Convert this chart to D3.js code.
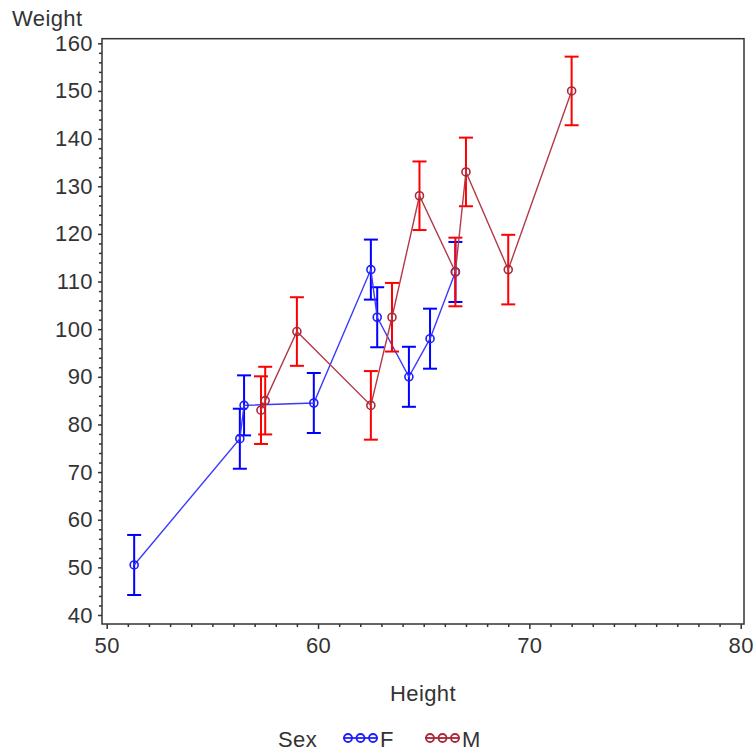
<!DOCTYPE html>
<html>
<head>
<meta charset="utf-8">
<script src="https://cdn.jsdelivr.net/npm/d3@7"></script>
<style>
  body { margin: 0; background: #fff; }
  text { font-family: "Liberation Sans", Arial, sans-serif; fill: #333; }
</style>
</head>
<body>
<svg id="svg" width="756" height="753"></svg>
<script>
// data (sashelp.class, sorted by height within sex)
const heightF = [51.3, 56.3, 56.5, 59.8, 62.5, 62.8, 64.3, 65.3, 66.5];
const weightF = [50.5, 77, 84, 84.5, 112.5, 102.5, 90, 98, 112];
const lowerF = [44.2, 70.7, 77.7, 78.2, 106.2, 96.2, 83.7, 91.7, 105.7];
const upperF = [56.8, 83.3, 90.3, 90.8, 118.8, 108.8, 96.3, 104.3, 118.3];

const heightM = [57.3, 57.5, 59, 62.5, 63.5, 64.8, 66.5, 67, 69, 72];
const weightM = [83, 85, 99.5, 84, 102.5, 128, 112, 133, 112.5, 150];
const lowerM = [75.9, 77.9, 92.3, 76.8, 95.3, 120.8, 104.8, 125.8, 105.2, 142.8];
const upperM = [90.1, 92.1, 106.7, 91.2, 109.7, 135.2, 119.2, 140.2, 119.8, 157.2];

const xTicks = [50, 60, 70, 80];
const yTicks = [40, 50, 60, 70, 80, 90, 100, 110, 120, 130, 140, 150, 160];

const groups = [
  {name: 'F', h: heightF, w: weightF, lo: lowerF, hi: upperF,
   line: '#3a3aff', mark: '#1c1cff', bar: '#0000ff'},
  {name: 'M', h: heightM, w: weightM, lo: lowerM, hi: upperM,
   line: '#b23a48', mark: '#a8283a', bar: '#ff0000'}
];

const svg = d3.select('#svg');
const frame = {left: 102, right: 744, top: 38.7, bottom: 624};

const x = d3.scaleLinear().domain([50, 80]).range([106.7, 740.7]);
const y = d3.scaleLinear().domain([40, 160]).range([615, 43.3]);

// minor ticks
const xMinor = d3.range(50, 80.01, 1).filter(v => v % 10 !== 0);
const yMinor = d3.range(40, 160.01, 2).filter(v => v % 10 !== 0);

svg.append('g')
  .attr('transform', `translate(0,${frame.bottom})`)
  .call(d3.axisBottom(x).tickValues(xMinor).tickFormat('').tickSize(3).tickSizeOuter(0))
  .call(g => g.select('.domain').remove())
  .selectAll('line').attr('stroke', '#333').attr('stroke-width', 1.5);

svg.append('g')
  .attr('transform', `translate(${frame.left},0)`)
  .call(d3.axisLeft(y).tickValues(yMinor).tickFormat('').tickSize(3).tickSizeOuter(0))
  .call(g => g.select('.domain').remove())
  .selectAll('line').attr('stroke', '#333').attr('stroke-width', 1.5);

// major ticks
const tickFont = g => g.selectAll('text')
  .attr('font-size', 22).attr('letter-spacing', '0.4px')
  .attr('font-family', '"Liberation Sans", Arial, sans-serif').attr('fill', '#333');

const xAxis = svg.append('g')
  .attr('transform', `translate(0,${frame.bottom})`)
  .call(d3.axisBottom(x).tickValues(xTicks).tickSize(5).tickPadding(8).tickSizeOuter(0));
xAxis.select('.domain').remove();
xAxis.selectAll('line').attr('stroke', '#333').attr('stroke-width', 1.5);
xAxis.call(tickFont);

const yAxis = svg.append('g')
  .attr('transform', `translate(${frame.left},0)`)
  .call(d3.axisLeft(y).tickValues(yTicks).tickSize(4).tickPadding(5).tickSizeOuter(0));
yAxis.select('.domain').remove();
yAxis.selectAll('line').attr('stroke', '#333').attr('stroke-width', 1.5);
yAxis.call(tickFont);

// frame
svg.append('rect')
  .attr('x', frame.left).attr('y', frame.top)
  .attr('width', frame.right - frame.left).attr('height', frame.bottom - frame.top)
  .attr('fill', 'none').attr('stroke', '#333').attr('stroke-width', 1.5);

// axis titles
svg.append('text').attr('x', 12).attr('y', 26).attr('font-size', 22).attr('letter-spacing', '0.4px').text('Weight');
svg.append('text').attr('x', (frame.left + frame.right) / 2).attr('y', 701)
  .attr('text-anchor', 'middle').attr('font-size', 22).attr('letter-spacing', '0.4px').text('Height');

const line = d3.line().x(d => x(d[0])).y(d => y(d[1]));

groups.forEach(g => {
  const pts = g.h.map((h, i) => [h, g.w[i], g.lo[i], g.hi[i]]);
  const layer = svg.append('g');

  // error bars
  const eb = layer.selectAll('.eb').data(pts).join('g')
    .attr('stroke', g.bar).attr('stroke-width', 2).attr('fill', 'none');
  eb.append('line')
    .attr('x1', d => x(d[0])).attr('x2', d => x(d[0]))
    .attr('y1', d => y(d[2])).attr('y2', d => y(d[3]));
  eb.append('line')
    .attr('x1', d => x(d[0]) - 7).attr('x2', d => x(d[0]) + 7)
    .attr('y1', d => y(d[2])).attr('y2', d => y(d[2]));
  eb.append('line')
    .attr('x1', d => x(d[0]) - 7).attr('x2', d => x(d[0]) + 7)
    .attr('y1', d => y(d[3])).attr('y2', d => y(d[3]));

  layer.append('path').datum(pts)
    .attr('d', line).attr('fill', 'none')
    .attr('stroke', g.line).attr('stroke-width', 1.4);

  layer.selectAll('.pt').data(pts).join('circle')
    .attr('cx', d => x(d[0])).attr('cy', d => y(d[1])).attr('r', 4)
    .attr('fill', 'none').attr('stroke', g.mark).attr('stroke-width', 1.6);
});

// legend
const legend = svg.append('g').attr('transform', 'translate(0,747)');
legend.append('text').attr('x', 278).attr('y', 0).attr('font-size', 22).attr('letter-spacing', '0.4px').text('Sex');
const legX = [343, 425];
groups.forEach((g, i) => {
  const lg = legend.append('g').attr('transform', `translate(${legX[i]},-9)`);
  lg.append('line').attr('x1', 0).attr('x2', 35).attr('y1', 0).attr('y2', 0)
    .attr('stroke', g.line).attr('stroke-width', 2);
  [5, 17.5, 30].forEach(cx => {
    lg.append('circle').attr('cx', cx).attr('cy', 0).attr('r', 4)
      .attr('fill', 'none').attr('stroke', g.mark).attr('stroke-width', 1.8);
  });
  legend.append('text').attr('x', legX[i] + 37).attr('y', 0).attr('font-size', 22).text(g.name);
});
</script>
</body>
</html>
